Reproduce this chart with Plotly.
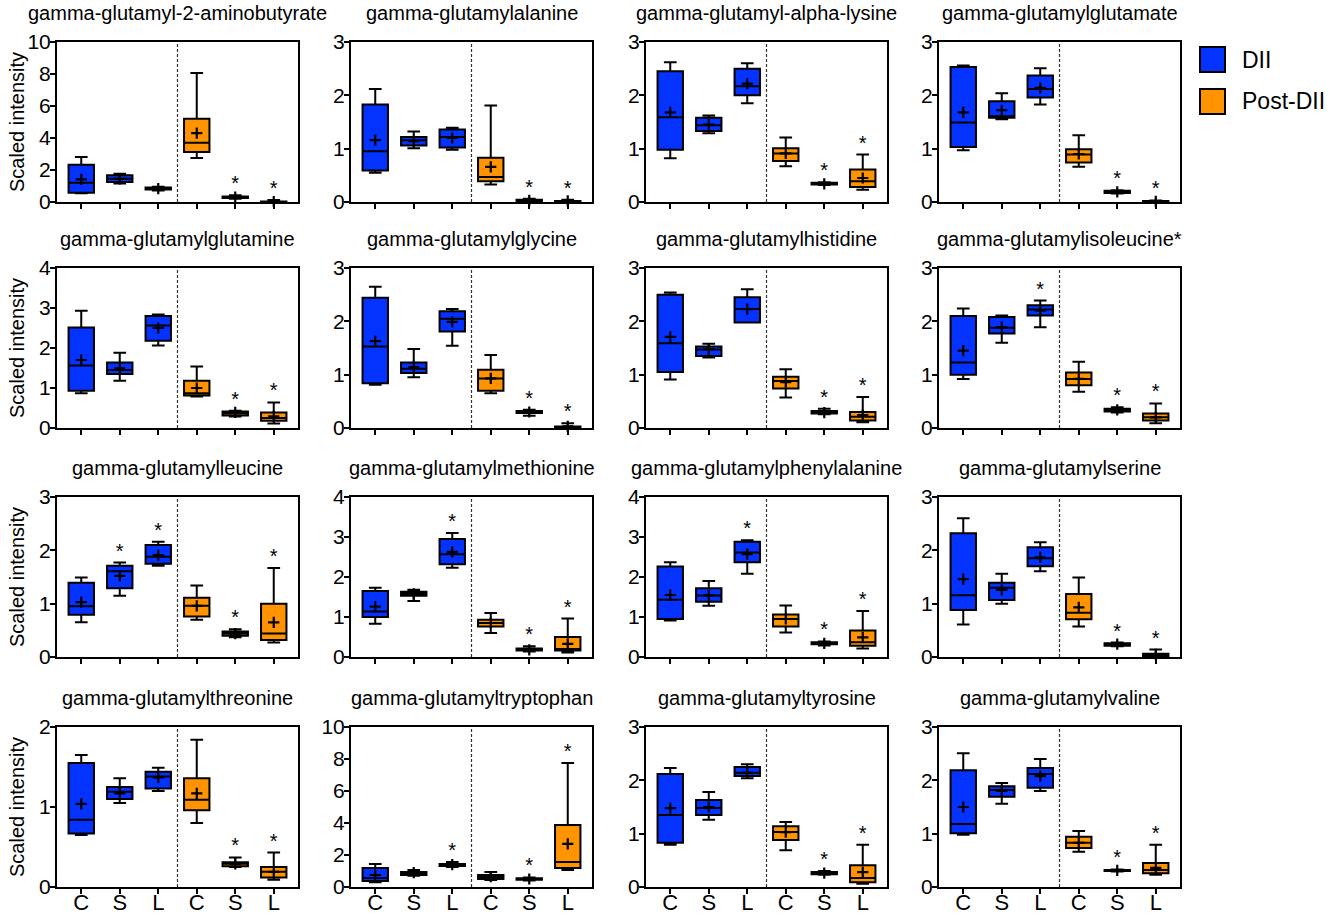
import plotly.graph_objects as go

W, H = 1331, 915
FONT = "Liberation Sans, Arial, Helvetica, sans-serif"
BLUE = "#0433FF"
ORANGE = "#FF9300"

names = [
    "gamma-glutamyl-2-aminobutyrate", "gamma-glutamylalanine", "gamma-glutamyl-alpha-lysine", "gamma-glutamylglutamate",
    "gamma-glutamylglutamine", "gamma-glutamylglycine", "gamma-glutamylhistidine", "gamma-glutamylisoleucine*",
    "gamma-glutamylleucine", "gamma-glutamylmethionine", "gamma-glutamylphenylalanine", "gamma-glutamylserine",
    "gamma-glutamylthreonine", "gamma-glutamyltryptophan", "gamma-glutamyltyrosine", "gamma-glutamylvaline",
]
categories = ["C", "S", "L", "C", "S", "L"]
groups = ["DII", "Post-DII"]
y_top = [10, 3, 3, 3, 4, 3, 3, 3, 3, 4, 4, 3, 2, 10, 3, 3]
y_step = [2, 1, 1, 1, 1, 1, 1, 1, 1, 1, 1, 1, 1, 2, 1, 1]

# each row: DII C, S, L, Post-DII C, S, L
whisker_low = [
    [0.55, 1.15, 0.72, 2.75, 0.20, 0.00],
    [0.55, 1.01, 0.98, 0.33, 0.01, 0.00],
    [0.82, 1.29, 1.85, 0.67, 0.32, 0.23],
    [0.97, 1.55, 1.83, 0.66, 0.16, 0.00],
    [0.87, 1.18, 2.06, 0.79, 0.29, 0.11],
    [0.81, 0.95, 1.54, 0.65, 0.23, 0.00],
    [0.91, 1.32, 1.98, 0.57, 0.26, 0.11],
    [0.92, 1.60, 1.89, 0.68, 0.29, 0.09],
    [0.65, 1.15, 1.71, 0.70, 0.37, 0.27],
    [0.83, 1.40, 2.23, 0.60, 0.14, 0.11],
    [0.91, 1.28, 2.08, 0.61, 0.29, 0.21],
    [0.61, 1.00, 1.61, 0.57, 0.20, 0.00],
    [0.65, 1.05, 1.20, 0.80, 0.25, 0.09],
    [0.30, 0.70, 1.25, 0.44, 0.40, 1.06],
    [0.79, 1.26, 2.04, 0.69, 0.23, 0.06],
    [0.98, 1.56, 1.80, 0.66, 0.29, 0.23],
]
q1 = [
    [0.58, 1.25, 0.78, 3.13, 0.25, 0.01],
    [0.59, 1.06, 1.02, 0.39, 0.02, 0.01],
    [0.98, 1.33, 2.00, 0.77, 0.33, 0.28],
    [1.03, 1.58, 1.96, 0.74, 0.17, 0.01],
    [0.93, 1.35, 2.18, 0.81, 0.31, 0.18],
    [0.84, 1.03, 1.81, 0.70, 0.28, 0.01],
    [1.05, 1.35, 1.98, 0.74, 0.27, 0.14],
    [1.00, 1.77, 2.11, 0.80, 0.31, 0.14],
    [0.79, 1.29, 1.75, 0.76, 0.40, 0.32],
    [1.00, 1.53, 2.32, 0.76, 0.16, 0.16],
    [0.95, 1.38, 2.37, 0.76, 0.32, 0.28],
    [0.88, 1.07, 1.70, 0.71, 0.21, 0.02],
    [0.67, 1.10, 1.23, 0.96, 0.26, 0.12],
    [0.38, 0.75, 1.31, 0.50, 0.45, 1.19],
    [0.83, 1.35, 2.08, 0.88, 0.24, 0.09],
    [1.01, 1.69, 1.86, 0.73, 0.30, 0.26],
]
median = [
    [1.21, 1.46, 0.84, 3.71, 0.30, 0.02],
    [0.95, 1.16, 1.22, 0.47, 0.03, 0.02],
    [1.59, 1.44, 2.17, 0.91, 0.34, 0.39],
    [1.49, 1.61, 2.12, 0.89, 0.19, 0.01],
    [1.56, 1.45, 2.56, 0.87, 0.37, 0.25],
    [1.53, 1.11, 2.05, 0.93, 0.30, 0.02],
    [1.59, 1.47, 2.23, 0.88, 0.29, 0.21],
    [1.23, 1.88, 2.22, 0.92, 0.34, 0.20],
    [0.95, 1.61, 1.88, 0.96, 0.44, 0.44],
    [1.14, 1.58, 2.57, 0.85, 0.18, 0.20],
    [1.43, 1.54, 2.61, 0.95, 0.34, 0.37],
    [1.16, 1.30, 1.85, 0.83, 0.24, 0.04],
    [0.84, 1.19, 1.38, 1.09, 0.29, 0.19],
    [0.56, 0.88, 1.38, 0.63, 0.50, 1.56],
    [1.35, 1.48, 2.14, 1.03, 0.26, 0.17],
    [1.18, 1.82, 2.12, 0.83, 0.31, 0.32],
]
q3 = [
    [2.33, 1.67, 0.90, 5.21, 0.35, 0.03],
    [1.83, 1.22, 1.36, 0.83, 0.04, 0.02],
    [2.45, 1.58, 2.50, 1.01, 0.36, 0.61],
    [2.53, 1.89, 2.37, 0.99, 0.21, 0.02],
    [2.51, 1.64, 2.80, 1.18, 0.41, 0.39],
    [2.44, 1.23, 2.19, 1.09, 0.32, 0.03],
    [2.50, 1.53, 2.45, 0.96, 0.32, 0.30],
    [2.10, 2.08, 2.30, 1.04, 0.36, 0.27],
    [1.39, 1.71, 2.10, 1.11, 0.48, 1.00],
    [1.65, 1.63, 2.95, 0.93, 0.21, 0.50],
    [2.26, 1.72, 2.88, 1.06, 0.37, 0.66],
    [2.32, 1.39, 2.06, 1.18, 0.26, 0.06],
    [1.55, 1.25, 1.44, 1.36, 0.31, 0.25],
    [1.19, 0.94, 1.44, 0.75, 0.55, 3.88],
    [2.12, 1.63, 2.25, 1.14, 0.28, 0.41],
    [2.19, 1.89, 2.23, 0.94, 0.32, 0.45],
]
whisker_high = [
    [2.81, 1.77, 0.95, 8.06, 0.42, 0.12],
    [2.12, 1.32, 1.39, 1.81, 0.06, 0.04],
    [2.62, 1.62, 2.60, 1.21, 0.37, 0.89],
    [2.56, 2.04, 2.51, 1.25, 0.22, 0.03],
    [2.93, 1.88, 2.84, 1.54, 0.43, 0.64],
    [2.65, 1.48, 2.23, 1.37, 0.34, 0.09],
    [2.54, 1.58, 2.60, 1.10, 0.36, 0.58],
    [2.24, 2.11, 2.39, 1.24, 0.39, 0.46],
    [1.49, 1.77, 2.16, 1.34, 0.52, 1.67],
    [1.73, 1.68, 3.10, 1.10, 0.27, 0.96],
    [2.37, 1.90, 2.92, 1.29, 0.39, 1.15],
    [2.60, 1.56, 2.15, 1.49, 0.27, 0.14],
    [1.65, 1.36, 1.49, 1.84, 0.37, 0.43],
    [1.44, 1.06, 1.56, 0.94, 0.60, 7.75],
    [2.23, 1.78, 2.30, 1.22, 0.30, 0.79],
    [2.51, 1.95, 2.40, 1.05, 0.33, 0.79],
]
mean = [
    [1.42, 1.45, 0.84, 4.31, 0.30, 0.03],
    [1.16, 1.14, 1.20, 0.66, 0.03, 0.02],
    [1.68, 1.45, 2.22, 0.91, 0.34, 0.45],
    [1.68, 1.72, 2.14, 0.90, 0.19, 0.01],
    [1.70, 1.49, 2.50, 1.00, 0.39, 0.29],
    [1.63, 1.14, 1.99, 0.93, 0.30, 0.03],
    [1.71, 1.48, 2.23, 0.86, 0.29, 0.24],
    [1.45, 1.89, 2.20, 0.92, 0.34, 0.20],
    [1.03, 1.52, 1.91, 0.96, 0.44, 0.65],
    [1.26, 1.58, 2.63, 0.85, 0.18, 0.33],
    [1.55, 1.54, 2.57, 0.95, 0.34, 0.49],
    [1.46, 1.26, 1.87, 0.93, 0.24, 0.05],
    [1.04, 1.17, 1.37, 1.17, 0.29, 0.19],
    [0.75, 0.90, 1.40, 0.65, 0.50, 2.69],
    [1.48, 1.50, 2.14, 1.03, 0.26, 0.28],
    [1.50, 1.80, 2.08, 0.83, 0.31, 0.36],
]
significant = [
    [0, 0, 0, 0, 1, 1], [0, 0, 0, 0, 1, 1], [0, 0, 0, 0, 1, 1], [0, 0, 0, 0, 1, 1],
    [0, 0, 0, 0, 1, 1], [0, 0, 0, 0, 1, 1], [0, 0, 0, 0, 1, 1], [0, 0, 1, 0, 1, 1],
    [0, 1, 1, 0, 1, 1], [0, 0, 1, 0, 1, 1], [0, 0, 1, 0, 1, 1], [0, 0, 0, 0, 1, 1],
    [0, 0, 0, 0, 1, 1], [0, 0, 1, 0, 1, 1], [0, 0, 0, 0, 1, 1], [0, 0, 0, 0, 1, 1],
]

# layout geometry in window pixels
col_left = [57, 351, 646, 939]
row_top = [42, 268, 497, 727]
PW, PH = 241, 160


def px(x):
    return x / W


def py(y):
    return 1 - y / H


fig = go.Figure()
shapes = []
annotations = []
positions = list(range(len(categories)))

for i, name in enumerate(names):
    r, c = divmod(i, 4)
    sfx = "" if i == 0 else str(i + 1)
    xa, ya = "x" + sfx, "y" + sfx
    for g, (color, sl) in enumerate([(BLUE, slice(0, 3)), (ORANGE, slice(3, 6))]):
        fig.add_trace(go.Box(
            x=positions[sl], q1=q1[i][sl], median=median[i][sl], q3=q3[i][sl],
            lowerfence=whisker_low[i][sl], upperfence=whisker_high[i][sl],
            fillcolor=color, line=dict(color="black", width=2),
            width=0.66, whiskerwidth=0.5, boxpoints=False, name=groups[g],
            showlegend=False, xaxis=xa, yaxis=ya, hoverinfo="skip",
        ))
    fig.add_trace(go.Scatter(
        x=positions, y=mean[i], mode="markers", xaxis=xa, yaxis=ya, showlegend=False,
        marker=dict(symbol="cross-thin", size=8, color="black", line=dict(width=2.2, color="black")),
        cliponaxis=False, hoverinfo="skip",
    ))
    sx = [p for p, s in zip(positions, significant[i]) if s]
    sy = [v for v, s in zip(whisker_high[i], significant[i]) if s]
    fig.add_trace(go.Scatter(
        x=sx, y=sy, mode="text", text=["*"] * len(sx), textposition="top center",
        textfont=dict(size=20, color="black", family=FONT), xaxis=xa, yaxis=ya,
        showlegend=False, cliponaxis=False, hoverinfo="skip",
    ))
    x0, x1 = px(col_left[c]), px(col_left[c] + PW)
    y0, y1 = py(row_top[r] + PH), py(row_top[r])
    common = dict(showline=True, linewidth=2, linecolor="black", mirror=True, ticks="outside",
                  ticklen=5, tickwidth=2, tickcolor="black", showgrid=False, zeroline=False,
                  automargin=False)
    fig.layout["xaxis" + sfx] = dict(
        domain=[x0, x1], anchor=ya, range=[-0.63, 5.63], tickmode="array",
        tickvals=positions, ticktext=categories, showticklabels=(r == 3), ticklabelstandoff=-10,
        tickfont=dict(size=22, color="black", family=FONT), **common)
    fig.layout["yaxis" + sfx] = dict(
        domain=[y0, y1], anchor=xa, range=[0, y_top[i]], tickmode="linear", tick0=0,
        dtick=y_step[i], ticklabelstandoff=-5,
        tickfont=dict(size=21, color="black", family=FONT), **common)
    shapes.append(dict(type="line", xref=xa, yref=ya + " domain", x0=2.5, x1=2.5, y0=0, y1=1,
                       line=dict(color="#333333", width=1.2, dash="3px,2px")))
    annotations.append(dict(text=name, x=(x0 + x1) / 2, y=py(row_top[r] - 29),
                            xref="paper", yref="paper", xanchor="center", yanchor="middle",
                            showarrow=False, font=dict(size=20, color="black", family=FONT)))
    if c == 0:
        annotations.append(dict(text="Scaled intensity", x=px(17), y=py(row_top[r] + PH / 2),
                                xref="paper", yref="paper", xanchor="center", yanchor="middle",
                                textangle=-90, showarrow=False,
                                font=dict(size=20, color="black", family=FONT)))

# legend
for k, (color, label) in enumerate([(BLUE, groups[0]), (ORANGE, groups[1])]):
    top = 47 + k * 42
    shapes.append(dict(type="rect", xref="paper", yref="paper",
                       x0=px(1200), x1=px(1225), y0=py(top + 25), y1=py(top),
                       fillcolor=color, line=dict(color="black", width=2)))
    annotations.append(dict(text=label, x=px(1240), y=py(top + 12.5), xref="paper", yref="paper",
                            xanchor="left", yanchor="middle", showarrow=False,
                            font=dict(size=23, color="black", family=FONT)))

fig.update_layout(
    template="none",
    width=W, height=H, autosize=False, margin=dict(l=0, r=0, t=0, b=0, pad=0),
    paper_bgcolor="white", plot_bgcolor="white", boxmode="overlay",
    shapes=shapes, annotations=annotations, showlegend=False,
    font=dict(family=FONT, color="black"),
)

# remove the browser's default page margin so the figure fills the window exactly
fig.write_html(
    "out.html",
    config={"displayModeBar": False},
    post_script="document.body.style.margin='0';document.body.style.overflow='hidden';",
)
